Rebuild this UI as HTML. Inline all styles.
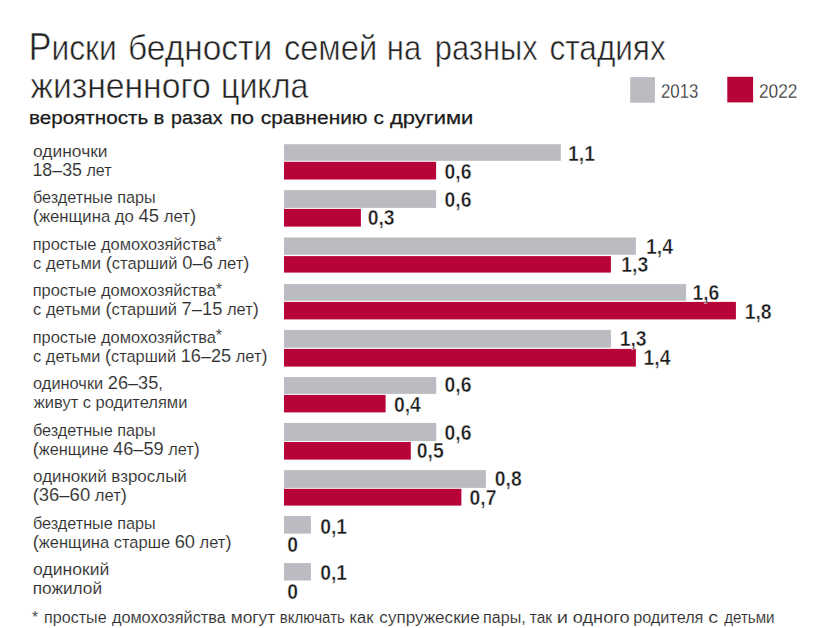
<!DOCTYPE html>
<html lang="ru"><head><meta charset="utf-8"><title>Риски бедности семей на разных стадиях жизненного цикла</title>
<style>
html,body{margin:0;padding:0;background:#fff;}
body{width:838px;height:628px;overflow:hidden;}
svg{display:block;}
text{font-family:"Liberation Sans",sans-serif;}
.val{font-size:22.5px;font-weight:700;fill:#1a1a1a;}
.title{stroke:#fff;stroke-width:0.55px;} .lab,.foot{stroke:#fff;stroke-width:0.12px;} .val{stroke:#fff;stroke-width:0.45px;} .sub{stroke:#1a1a1a;stroke-width:0.25px;} .leg{stroke:#fff;stroke-width:0.3px;}
</style></head><body>
<svg width="838" height="628" viewBox="0 0 838 628">
<rect width="838" height="628" fill="#fff"/>
<rect x="284.0" y="144.20" width="276.80" height="16.60" fill="#bbbcc1"/>
<rect x="284.0" y="161.80" width="152.10" height="17.70" fill="#b80338"/>
<rect x="284.0" y="190.10" width="152.10" height="17.80" fill="#bbbcc1"/>
<rect x="284.0" y="208.90" width="76.90" height="17.70" fill="#b80338"/>
<rect x="284.0" y="237.50" width="351.90" height="17.30" fill="#bbbcc1"/>
<rect x="284.0" y="256.10" width="326.90" height="16.50" fill="#b80338"/>
<rect x="284.0" y="284.10" width="402.10" height="16.60" fill="#bbbcc1"/>
<rect x="284.0" y="301.90" width="451.90" height="17.50" fill="#b80338"/>
<rect x="284.0" y="329.90" width="326.90" height="17.80" fill="#bbbcc1"/>
<rect x="284.0" y="348.90" width="351.90" height="17.70" fill="#b80338"/>
<rect x="284.0" y="377.10" width="152.20" height="16.80" fill="#bbbcc1"/>
<rect x="284.0" y="394.90" width="101.60" height="17.50" fill="#b80338"/>
<rect x="284.0" y="422.90" width="152.20" height="18.20" fill="#bbbcc1"/>
<rect x="284.0" y="442.00" width="126.80" height="17.60" fill="#b80338"/>
<rect x="284.0" y="470.10" width="201.90" height="17.80" fill="#bbbcc1"/>
<rect x="284.0" y="488.80" width="177.40" height="16.80" fill="#b80338"/>
<rect x="284.0" y="516.00" width="26.90" height="17.60" fill="#bbbcc1"/>
<rect x="284.0" y="563.10" width="26.90" height="17.40" fill="#bbbcc1"/>
<rect x="630.2" y="77.1" width="24.7" height="25.6" fill="#bbbcc1"/>
<rect x="727.3" y="76.8" width="25.8" height="25.6" fill="#b80338"/>
<text class="title" x="28.74" y="59.80" font-size="35.5" font-weight="400" fill="#222222" textLength="88.02" lengthAdjust="spacingAndGlyphs"><tspan font-size="37.98">Р</tspan>иски</text>
<text class="title" x="128.03" y="59.80" font-size="35.5" font-weight="400" fill="#222222" textLength="144.13" lengthAdjust="spacingAndGlyphs">бедности</text>
<text class="title" x="283.88" y="59.80" font-size="35.5" font-weight="400" fill="#222222" textLength="93.23" lengthAdjust="spacingAndGlyphs">семей</text>
<text class="title" x="386.76" y="59.80" font-size="35.5" font-weight="400" fill="#222222" textLength="34.45" lengthAdjust="spacingAndGlyphs">на</text>
<text class="title" x="434.87" y="59.80" font-size="35.5" font-weight="400" fill="#222222" textLength="102.73" lengthAdjust="spacingAndGlyphs">разных</text>
<text class="title" x="549.52" y="59.80" font-size="35.5" font-weight="400" fill="#222222" textLength="116.18" lengthAdjust="spacingAndGlyphs">стадиях</text>
<text class="title" x="30.50" y="97.60" font-size="35.5" font-weight="400" fill="#222222" textLength="180.16" lengthAdjust="spacingAndGlyphs">жизненного</text>
<text class="title" x="220.99" y="97.60" font-size="35.5" font-weight="400" fill="#222222" textLength="87.40" lengthAdjust="spacingAndGlyphs">цикла</text>
<text class="sub" x="28.90" y="123.80" font-size="19.2" font-weight="400" fill="#1a1a1a" textLength="119.46" lengthAdjust="spacingAndGlyphs">вероятность</text>
<text class="sub" x="153.42" y="123.80" font-size="19.2" font-weight="400" fill="#1a1a1a" textLength="10.83" lengthAdjust="spacingAndGlyphs">в</text>
<text class="sub" x="171.07" y="123.80" font-size="19.2" font-weight="400" fill="#1a1a1a" textLength="51.43" lengthAdjust="spacingAndGlyphs">разах</text>
<text class="sub" x="229.91" y="123.80" font-size="19.2" font-weight="400" fill="#1a1a1a" textLength="24.18" lengthAdjust="spacingAndGlyphs">по</text>
<text class="sub" x="260.83" y="123.80" font-size="19.2" font-weight="400" fill="#1a1a1a" textLength="106.64" lengthAdjust="spacingAndGlyphs">сравнению</text>
<text class="sub" x="373.43" y="123.80" font-size="19.2" font-weight="400" fill="#1a1a1a" textLength="10.41" lengthAdjust="spacingAndGlyphs">с</text>
<text class="sub" x="389.99" y="123.80" font-size="19.2" font-weight="400" fill="#1a1a1a" textLength="83.23" lengthAdjust="spacingAndGlyphs">другими</text>
<text class="leg" x="660.97" y="97.90" font-size="20.2" font-weight="400" fill="#262626" textLength="37.43" lengthAdjust="spacingAndGlyphs">2013</text>
<text class="leg" x="758.94" y="97.90" font-size="20.2" font-weight="400" fill="#262626" textLength="38.46" lengthAdjust="spacingAndGlyphs">2022</text>
<text class="lab" x="33.08" y="156.60" font-size="16.8" font-weight="400" fill="#2e2e2e" textLength="74.45" lengthAdjust="spacingAndGlyphs">одиночки</text>
<text class="lab" x="32.46" y="175.80" font-size="16.8" font-weight="400" fill="#2e2e2e" textLength="79.02" lengthAdjust="spacingAndGlyphs"><tspan font-size="18.65">18–35</tspan> лет</text>
<text class="lab" x="32.93" y="203.10" font-size="16.8" font-weight="400" fill="#2e2e2e" textLength="122.81" lengthAdjust="spacingAndGlyphs">бездетные пары</text>
<text class="lab" x="32.71" y="222.30" font-size="16.8" font-weight="400" fill="#2e2e2e" textLength="163.40" lengthAdjust="spacingAndGlyphs"><tspan font-size="18.65">(</tspan>женщина до <tspan font-size="18.65">45</tspan> лет<tspan font-size="18.65">)</tspan></text>
<text class="lab" x="32.73" y="249.60" font-size="16.8" font-weight="400" fill="#2e2e2e" textLength="189.51" lengthAdjust="spacingAndGlyphs">простые домохозяйства<tspan dy="-1.5">*</tspan></text>
<text class="lab" x="33.11" y="268.80" font-size="16.8" font-weight="400" fill="#2e2e2e" textLength="216.38" lengthAdjust="spacingAndGlyphs">с детьми <tspan font-size="18.65">(</tspan>старший <tspan font-size="18.65">0–6</tspan> лет<tspan font-size="18.65">)</tspan></text>
<text class="lab" x="32.73" y="296.10" font-size="16.8" font-weight="400" fill="#2e2e2e" textLength="189.51" lengthAdjust="spacingAndGlyphs">простые домохозяйства<tspan dy="-1.5">*</tspan></text>
<text class="lab" x="33.11" y="315.30" font-size="16.8" font-weight="400" fill="#2e2e2e" textLength="225.68" lengthAdjust="spacingAndGlyphs">с детьми <tspan font-size="18.65">(</tspan>старший <tspan font-size="18.65">7–15</tspan> лет<tspan font-size="18.65">)</tspan></text>
<text class="lab" x="32.73" y="342.60" font-size="16.8" font-weight="400" fill="#2e2e2e" textLength="189.51" lengthAdjust="spacingAndGlyphs">простые домохозяйства<tspan dy="-1.5">*</tspan></text>
<text class="lab" x="33.12" y="361.80" font-size="16.8" font-weight="400" fill="#2e2e2e" textLength="234.36" lengthAdjust="spacingAndGlyphs">с детьми <tspan font-size="18.65">(</tspan>старший <tspan font-size="18.65">16–25</tspan> лет<tspan font-size="18.65">)</tspan></text>
<text class="lab" x="33.12" y="389.10" font-size="16.8" font-weight="400" fill="#2e2e2e" textLength="129.81" lengthAdjust="spacingAndGlyphs">одиночки <tspan font-size="18.65">26–35</tspan>,</text>
<text class="lab" x="33.80" y="408.30" font-size="16.8" font-weight="400" fill="#2e2e2e" textLength="153.56" lengthAdjust="spacingAndGlyphs">живут с родителями</text>
<text class="lab" x="32.93" y="435.60" font-size="16.8" font-weight="400" fill="#2e2e2e" textLength="122.81" lengthAdjust="spacingAndGlyphs">бездетные пары</text>
<text class="lab" x="32.73" y="454.80" font-size="16.8" font-weight="400" fill="#2e2e2e" textLength="167.05" lengthAdjust="spacingAndGlyphs"><tspan font-size="18.65">(</tspan>женщине <tspan font-size="18.65">46–59</tspan> лет<tspan font-size="18.65">)</tspan></text>
<text class="lab" x="33.09" y="482.10" font-size="16.8" font-weight="400" fill="#2e2e2e" textLength="153.70" lengthAdjust="spacingAndGlyphs">одинокий взрослый</text>
<text class="lab" x="32.71" y="501.30" font-size="16.8" font-weight="400" fill="#2e2e2e" textLength="94.19" lengthAdjust="spacingAndGlyphs"><tspan font-size="18.65">(36–60</tspan> лет<tspan font-size="18.65">)</tspan></text>
<text class="lab" x="32.93" y="528.60" font-size="16.8" font-weight="400" fill="#2e2e2e" textLength="122.81" lengthAdjust="spacingAndGlyphs">бездетные пары</text>
<text class="lab" x="32.72" y="547.80" font-size="16.8" font-weight="400" fill="#2e2e2e" textLength="198.77" lengthAdjust="spacingAndGlyphs"><tspan font-size="18.65">(</tspan>женщина старше <tspan font-size="18.65">60</tspan> лет<tspan font-size="18.65">)</tspan></text>
<text class="lab" x="33.07" y="575.10" font-size="16.8" font-weight="400" fill="#2e2e2e" textLength="76.27" lengthAdjust="spacingAndGlyphs">одинокий</text>
<text class="lab" x="32.67" y="594.30" font-size="16.8" font-weight="400" fill="#2e2e2e" textLength="69.44" lengthAdjust="spacingAndGlyphs">пожилой</text>
<text class="foot" x="32.10" y="622.60" font-size="16.0" font-weight="400" fill="#2e2e2e" textLength="6.12" lengthAdjust="spacingAndGlyphs">*</text>
<text class="foot" x="44.09" y="622.60" font-size="16.0" font-weight="400" fill="#2e2e2e" textLength="62.51" lengthAdjust="spacingAndGlyphs">простые</text>
<text class="foot" x="111.90" y="622.60" font-size="16.0" font-weight="400" fill="#2e2e2e" textLength="113.90" lengthAdjust="spacingAndGlyphs">домохозяйства</text>
<text class="foot" x="230.71" y="622.60" font-size="16.0" font-weight="400" fill="#2e2e2e" textLength="44.54" lengthAdjust="spacingAndGlyphs">могут</text>
<text class="foot" x="279.76" y="622.60" font-size="16.0" font-weight="400" fill="#2e2e2e" textLength="65.13" lengthAdjust="spacingAndGlyphs">включать</text>
<text class="foot" x="349.58" y="622.60" font-size="16.0" font-weight="400" fill="#2e2e2e" textLength="23.82" lengthAdjust="spacingAndGlyphs">как</text>
<text class="foot" x="379.36" y="622.60" font-size="16.0" font-weight="400" fill="#2e2e2e" textLength="100.29" lengthAdjust="spacingAndGlyphs">супружеские</text>
<text class="foot" x="483.10" y="622.60" font-size="16.0" font-weight="400" fill="#2e2e2e" textLength="42.55" lengthAdjust="spacingAndGlyphs">пары,</text>
<text class="foot" x="529.81" y="622.60" font-size="16.0" font-weight="400" fill="#2e2e2e" textLength="22.20" lengthAdjust="spacingAndGlyphs">так</text>
<text class="foot" x="556.81" y="622.60" font-size="16.0" font-weight="400" fill="#2e2e2e" textLength="11.30" lengthAdjust="spacingAndGlyphs">и</text>
<text class="foot" x="572.82" y="622.60" font-size="16.0" font-weight="400" fill="#2e2e2e" textLength="56.76" lengthAdjust="spacingAndGlyphs">одного</text>
<text class="foot" x="633.19" y="622.60" font-size="16.0" font-weight="400" fill="#2e2e2e" textLength="70.19" lengthAdjust="spacingAndGlyphs">родителя</text>
<text class="foot" x="708.26" y="622.60" font-size="16.0" font-weight="400" fill="#2e2e2e" textLength="9.83" lengthAdjust="spacingAndGlyphs">с</text>
<text class="foot" x="724.21" y="622.60" font-size="16.0" font-weight="400" fill="#2e2e2e" textLength="50.27" lengthAdjust="spacingAndGlyphs">детьми</text>
<text class="val" x="568.00" y="160.80" textLength="26.90" lengthAdjust="spacingAndGlyphs">1,1</text>
<text class="val" x="444.51" y="179.30" textLength="26.90" lengthAdjust="spacingAndGlyphs">0,6</text>
<text class="val" x="444.51" y="206.80" textLength="26.90" lengthAdjust="spacingAndGlyphs">0,6</text>
<text class="val" x="367.71" y="225.20" textLength="26.90" lengthAdjust="spacingAndGlyphs">0,3</text>
<text class="val" x="646.10" y="253.60" textLength="26.90" lengthAdjust="spacingAndGlyphs">1,4</text>
<text class="val" x="621.30" y="272.10" textLength="26.90" lengthAdjust="spacingAndGlyphs">1,3</text>
<text class="val" x="692.40" y="300.40" textLength="26.90" lengthAdjust="spacingAndGlyphs">1,6</text>
<text class="val" x="744.70" y="318.50" textLength="26.90" lengthAdjust="spacingAndGlyphs">1,8</text>
<text class="val" x="619.70" y="346.00" textLength="26.90" lengthAdjust="spacingAndGlyphs">1,3</text>
<text class="val" x="643.60" y="365.20" textLength="26.90" lengthAdjust="spacingAndGlyphs">1,4</text>
<text class="val" x="444.51" y="392.30" textLength="26.90" lengthAdjust="spacingAndGlyphs">0,6</text>
<text class="val" x="393.91" y="412.40" textLength="26.90" lengthAdjust="spacingAndGlyphs">0,4</text>
<text class="val" x="444.51" y="440.20" textLength="26.90" lengthAdjust="spacingAndGlyphs">0,6</text>
<text class="val" x="416.81" y="458.00" textLength="26.90" lengthAdjust="spacingAndGlyphs">0,5</text>
<text class="val" x="494.81" y="485.90" textLength="26.90" lengthAdjust="spacingAndGlyphs">0,8</text>
<text class="val" x="469.61" y="504.90" textLength="26.90" lengthAdjust="spacingAndGlyphs">0,7</text>
<text class="val" x="320.21" y="533.80" textLength="26.90" lengthAdjust="spacingAndGlyphs">0,1</text>
<text class="val" x="287.21" y="551.80" textLength="10.76" lengthAdjust="spacingAndGlyphs">0</text>
<text class="val" x="320.21" y="579.60" textLength="26.90" lengthAdjust="spacingAndGlyphs">0,1</text>
<text class="val" x="287.21" y="598.90" textLength="10.76" lengthAdjust="spacingAndGlyphs">0</text>
</svg>
</body></html>
